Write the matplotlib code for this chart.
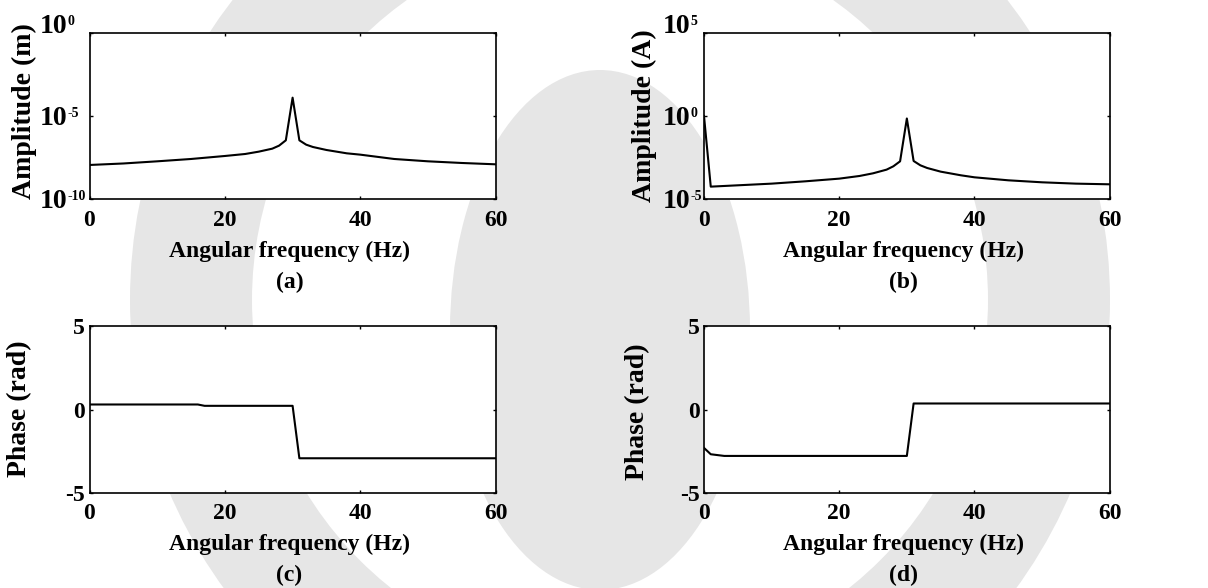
import numpy as np
import matplotlib
matplotlib.use("Agg")
import matplotlib.pyplot as plt
from matplotlib.patches import Wedge, Ellipse

plt.rcParams['font.family'] = ['Liberation Serif', 'DejaVu Serif']
plt.rcParams['font.weight'] = 'bold'
plt.rcParams['axes.unicode_minus'] = False

# (a) displacement amplitude spectrum, log10 of value
freq_a = [0, 5, 10, 15, 20, 23, 25, 27, 28, 29, 30, 31, 32, 33, 35, 38, 40, 45, 50, 55, 60]
logamp_a = [-7.94, -7.85, -7.72, -7.58, -7.40, -7.28, -7.14, -6.96, -6.78, -6.46, -3.90,
            -6.46, -6.72, -6.86, -7.04, -7.24, -7.32, -7.58, -7.72, -7.82, -7.90]

# (b) current amplitude spectrum, log10 of value
freq_b = [0, 1, 5, 10, 15, 20, 23, 25, 27, 28, 29, 30, 31, 32, 33, 35, 38, 40, 45, 50, 55, 60]
logamp_b = [0.0, -4.24, -4.16, -4.06, -3.92, -3.76, -3.60, -3.44, -3.22, -3.02, -2.72, -0.15,
            -2.70, -2.96, -3.12, -3.34, -3.56, -3.68, -3.86, -3.98, -4.06, -4.10]

# (c) displacement phase
freq_c = [0, 16, 17, 30, 31, 60]
phase_c = [0.30, 0.30, 0.22, 0.22, -2.92, -2.92]

# (d) current phase
freq_d = [0, 1, 3, 30, 31, 60]
phase_d = [-2.30, -2.68, -2.78, -2.78, 0.36, 0.36]

x_ticks = [0, 20, 40, 60]
exp_a = [-10, -5, 0]
exp_b = [-5, 0, 5]
phase_ticks = [-5, 0, 5]
xlab = 'Angular frequency (Hz)'
ylabels = ['Amplitude (m)', 'Amplitude (A)', 'Phase (rad)', 'Phase (rad)']
tags = ['(a)', '(b)', '(c)', '(d)']

W, H = 1208.0, 588.0
fig = plt.figure(figsize=(W / 100, H / 100), dpi=100)

# faint watermark behind the plots
wm = '#e6e6e6'
fig.add_artist(Wedge((6.2, 2.88), 4.9, 0, 360, width=1.22, color=wm, lw=0,
                     transform=fig.dpi_scale_trans, zorder=-5))
fig.add_artist(Ellipse((6.0, 2.58), 3.0, 5.2, color=wm, lw=0,
                       transform=fig.dpi_scale_trans, zorder=-5))


def px_axes(l, t, r, b):
    return fig.add_axes([l / W, 1 - b / H, (r - l) / W, (b - t) / H])


def px_text(x, y, s, **kw):
    fig.text(x / W, 1 - y / H, s, **kw)


ax_a = px_axes(89.5, 32.7, 495.7, 199.3)
ax_b = px_axes(704, 32.7, 1109.7, 199.3)
ax_c = px_axes(89.5, 326, 495.7, 493)
ax_d = px_axes(704, 326, 1109.7, 493)
axes = [ax_a, ax_b, ax_c, ax_d]

ax_a.semilogy(freq_a, 10.0 ** np.array(logamp_a), color='black', lw=1.5)
ax_a.set_ylim(1e-10, 1e0)
ax_b.semilogy(freq_b, 10.0 ** np.array(logamp_b), color='black', lw=1.5)
ax_b.set_ylim(1e-5, 1e5)

ax_c.plot(freq_c, phase_c, color='black', lw=1.5)
ax_d.plot(freq_d, phase_d, color='black', lw=1.5)
for ax in (ax_c, ax_d):
    ax.set_ylim(-5, 5)
    ax.set_yticks(phase_ticks)

# log axes: MATLAB-style "10" with small raised exponent
for ax, exps, shift in ((ax_a, exp_a, -15.8), (ax_b, exp_b, -10.1)):
    ax.set_yticks([10.0 ** e for e in exps])
    ax.minorticks_off()
    ax.tick_params(axis='y', labelleft=False)
    tr = ax.get_yaxis_transform()
    for i, e in enumerate(exps):
        # top label sits on its tick, the others are centred on it
        base = [-6.5, -6.5, 0.0][i]
        ax.annotate('10', xy=(0, 10.0 ** e), xycoords=tr, xytext=(shift, base),
                    textcoords='offset points', ha='right', va='baseline',
                    fontsize=20, fontweight='bold', annotation_clip=False)
        ax.annotate(str(e), xy=(0, 10.0 ** e), xycoords=tr, xytext=(shift + 0.2, base + 5.8),
                    textcoords='offset points', ha='left', va='baseline',
                    fontsize=10, fontweight='bold', annotation_clip=False)

for ax in axes:
    ax.set_xlim(0, 60)
    ax.set_xticks(x_ticks)
    ax.tick_params(direction='in', length=2.2, width=1, top=True, right=True,
                   labelsize=17, pad=3.3)
    ax.tick_params(axis='x', pad=7.5)
    for s in ax.spines.values():
        s.set_linewidth(1.2)
    ax.set_facecolor('white')

# axis titles and panel tags (pixel positions from the layout)
xl_x = [289.5, 903.5, 289.5, 903.5]
row_off = [0, 0, 293.3, 293.3]
yl_pos = [(24, 111), (644, 116), (20, 408.5), (638, 412)]
for i in range(4):
    px_text(xl_x[i], 257 + row_off[i], xlab, ha='center', va='baseline',
            fontsize=17, fontweight='bold')
    px_text(xl_x[i], 288 + row_off[i], tags[i], ha='center', va='baseline',
            fontsize=17, fontweight='bold')
    px_text(yl_pos[i][0], yl_pos[i][1], ylabels[i], ha='center', va='center',
            rotation=90, fontsize=20, fontweight='bold')

fig.savefig('out.png', dpi=100)
